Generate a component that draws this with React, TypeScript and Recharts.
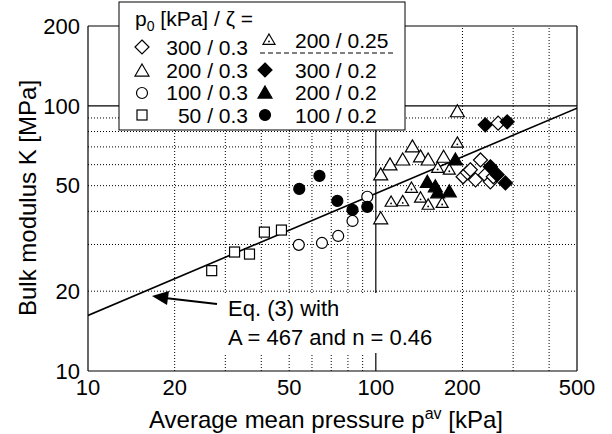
import React from 'react';
import { ScatterChart, Scatter, XAxis, YAxis, ReferenceLine } from 'recharts';

// [p_av (kPa), K (MPa)], one list per test series
const open300_03 = [[201, 54], [208, 56], [213, 57.4], [222, 52.6], [231, 62.5], [240, 54.9], [250, 51.7], [256, 54], [266, 86]];
const open200_03 = [[104, 37.5], [104, 54.9], [112, 59.9], [124, 62.5], [134, 70], [143, 64.2], [152, 62.5], [172, 64], [192, 95]];
const open100_03 = [[54, 29.9], [65, 30.4], [74, 32.3], [83, 36.8], [93.4, 45.4]];
const open50_03 = [[26.9, 23.9], [32.3, 28.1], [36.4, 27.6], [41, 33.4], [47, 34]];
const dot200_025 = [[113, 43.4], [124, 43.6], [133, 49], [143, 45], [152, 42.3], [164, 58.3], [170, 43], [180, 57.4], [192, 72.5]];
const solid300_02 = [[240, 84.8], [250, 58.9], [264, 55], [282, 51.2], [286, 87]];
const solid200_02 = [[151, 51.5], [161, 49.5], [164, 47], [180, 47.4], [189, 62.5]];
const solid100_02 = [[54.2, 48.6], [63.7, 54.4], [73.5, 43.8], [83, 40.5], [93.4, 41.6]];

// Eq. (3), A = 467, n = 0.46, end points read at p = 10 and 500
const fitLine = [[10, 16.2], [500, 98]];

const xTicks = [10, 20, 50, 100, 200, 500];
const yTicks = [10, 20, 50, 100, 200];
const xMinor = [20, 30, 40, 50, 60, 70, 80, 90, 200, 300, 400];
const yMinor = [20, 30, 40, 50, 60, 70, 80, 90];

const FONT = '"Liberation Sans", Arial, Helvetica, sans-serif';
const SW = 1.2;

const toPts = (rows: number[][]) => rows.map(([p, k]) => ({ p, k }));

const Diamond = ({ cx, cy, filled }: any) => {
  const r = 7;
  return (
    <path
      d={`M${cx},${cy - r}L${cx + r},${cy}L${cx},${cy + r}L${cx - r},${cy}Z`}
      fill={filled ? '#000' : '#fff'}
      stroke="#000"
      strokeWidth={SW}
    />
  );
};

const Triangle = ({ cx, cy, filled, r = 7 }: any) => (
  <path
    d={`M${cx},${cy - r}L${cx + r},${cy + r * 0.72}L${cx - r},${cy + r * 0.72}Z`}
    fill={filled ? '#000' : '#fff'}
    stroke="#000"
    strokeWidth={SW}
  />
);

const DotTriangle = ({ cx, cy }: any) => (
  <g>
    <Triangle cx={cx} cy={cy} r={6} />
    <circle cx={cx} cy={cy + 1.5} r={0.9} fill="#000" />
  </g>
);

const Circle = ({ cx, cy, filled }: any) => (
  <circle cx={cx} cy={cy} r={5.5} fill={filled ? '#000' : '#fff'} stroke="#000" strokeWidth={SW} />
);

const Square = ({ cx, cy }: any) => (
  <rect x={cx - 5} y={cy - 5} width={10} height={10} fill="#fff" stroke="#000" strokeWidth={SW} />
);

const Legend = () => {
  const t = { fontFamily: FONT, fontSize: 21, fill: '#000' };
  return (
    <g>
      <rect x={119} y={2} width={286} height={128} fill="#fff" stroke="#000" strokeWidth={1} />
      <text x={135} y={26} {...t}>
        p<tspan fontSize={14} dy={5}>0</tspan>
        <tspan dy={-5}> [kPa] / ζ =</tspan>
      </text>
      <Diamond cx={142} cy={47} />
      <Triangle cx={142} cy={71} />
      <Circle cx={142} cy={93} />
      <Square cx={142} cy={115} />
      <text x={248} y={55} textAnchor="end" {...t}>300 / 0.3</text>
      <text x={248} y={78} textAnchor="end" {...t}>200 / 0.3</text>
      <text x={248} y={100} textAnchor="end" {...t}>100 / 0.3</text>
      <text x={248} y={123} textAnchor="end" {...t}>50 / 0.3</text>
      <DotTriangle cx={269} cy={40} />
      <text x={295} y={48} {...t}>200 / 0.25</text>
      <line x1={260} y1={53} x2={393} y2={53} stroke="#000" strokeWidth={1} strokeDasharray="5 3" />
      <Diamond cx={265} cy={70} filled />
      <Triangle cx={265} cy={93} filled />
      <Circle cx={265} cy={115} filled />
      <text x={295} y={78} {...t}>300 / 0.2</text>
      <text x={295} y={100} {...t}>200 / 0.2</text>
      <text x={295} y={123} {...t}>100 / 0.2</text>
    </g>
  );
};

const Overlay = () => {
  const t = { fontFamily: FONT, fill: '#000' };
  return (
    <svg width={612} height={434} style={{ position: 'absolute', left: 0, top: 0 }}>
      <rect x={221} y={293} width={231} height={60} fill="#fff" />
      <text x={228} y={316} fontSize={22} {...t}>Eq. (3) with</text>
      <text x={228} y={345} fontSize={22} {...t}>A = 467 and n = 0.46</text>
      <line x1={217} y1={304} x2={165} y2={298} stroke="#000" strokeWidth={2} />
      <polygon points="152,296 169,291 167,305" fill="#000" />
      <Legend />
      <text x={326} y={428} textAnchor="middle" fontSize={24} {...t}>
        Average mean pressure p<tspan fontSize={16} dy={-9}>av</tspan>
        <tspan dy={9}> [kPa]</tspan>
      </text>
      <text
        x={0}
        y={0}
        transform="translate(36,198) rotate(-90)"
        textAnchor="middle"
        fontSize={24}
        {...t}
      >
        Bulk modulus K [MPa]
      </text>
    </svg>
  );
};

const App: React.FC = () => {
  const tick = { fill: '#000', fontSize: 22, fontFamily: FONT };
  return (
    <div style={{ position: 'absolute', left: 0, top: 0, width: 612, height: 434, background: '#fff' }}>
      <ScatterChart width={612} height={434} margin={{ top: 26, right: 35, bottom: 0, left: 0 }}>
        <XAxis
          type="number"
          dataKey="p"
          scale="log"
          domain={[10, 500]}
          ticks={xTicks}
          interval={0}
          allowDataOverflow
          height={63}
          tickLine={false}
          axisLine={{ stroke: '#000', strokeWidth: 1.2 }}
          tick={tick}
        />
        <YAxis
          type="number"
          dataKey="k"
          scale="log"
          domain={[10, 200]}
          ticks={yTicks}
          interval={0}
          allowDataOverflow
          width={88}
          tickLine={false}
          axisLine={{ stroke: '#000', strokeWidth: 1.2 }}
          tick={tick}
        />
        {xMinor.map((v) => (
          <ReferenceLine key={`gx${v}`} x={v} stroke="#000" strokeWidth={1} strokeDasharray="1 2" />
        ))}
        {yMinor.map((v) => (
          <ReferenceLine key={`gy${v}`} y={v} stroke="#000" strokeWidth={1} strokeDasharray="1 2" />
        ))}
        <ReferenceLine x={100} stroke="#000" strokeWidth={1.2} />
        <ReferenceLine y={100} stroke="#000" strokeWidth={1.2} />
        <ReferenceLine x={500} stroke="#000" strokeWidth={1.2} />
        <ReferenceLine y={200} stroke="#000" strokeWidth={1.2} />
        <Scatter
          data={toPts(fitLine)}
          line={{ stroke: '#000', strokeWidth: 1.6 }}
          shape={() => <g />}
          isAnimationActive={false}
        />
        <Scatter data={toPts(open50_03)} shape={(p: any) => <Square {...p} />} isAnimationActive={false} />
        <Scatter data={toPts(open100_03)} shape={(p: any) => <Circle {...p} />} isAnimationActive={false} />
        <Scatter data={toPts(solid100_02)} shape={(p: any) => <Circle {...p} filled />} isAnimationActive={false} />
        <Scatter data={toPts(open200_03)} shape={(p: any) => <Triangle {...p} />} isAnimationActive={false} />
        <Scatter data={toPts(dot200_025)} shape={(p: any) => <DotTriangle {...p} />} isAnimationActive={false} />
        <Scatter data={toPts(solid200_02)} shape={(p: any) => <Triangle {...p} filled />} isAnimationActive={false} />
        <Scatter data={toPts(open300_03)} shape={(p: any) => <Diamond {...p} />} isAnimationActive={false} />
        <Scatter data={toPts(solid300_02)} shape={(p: any) => <Diamond {...p} filled />} isAnimationActive={false} />
      </ScatterChart>
      <Overlay />
    </div>
  );
};

export default App;
